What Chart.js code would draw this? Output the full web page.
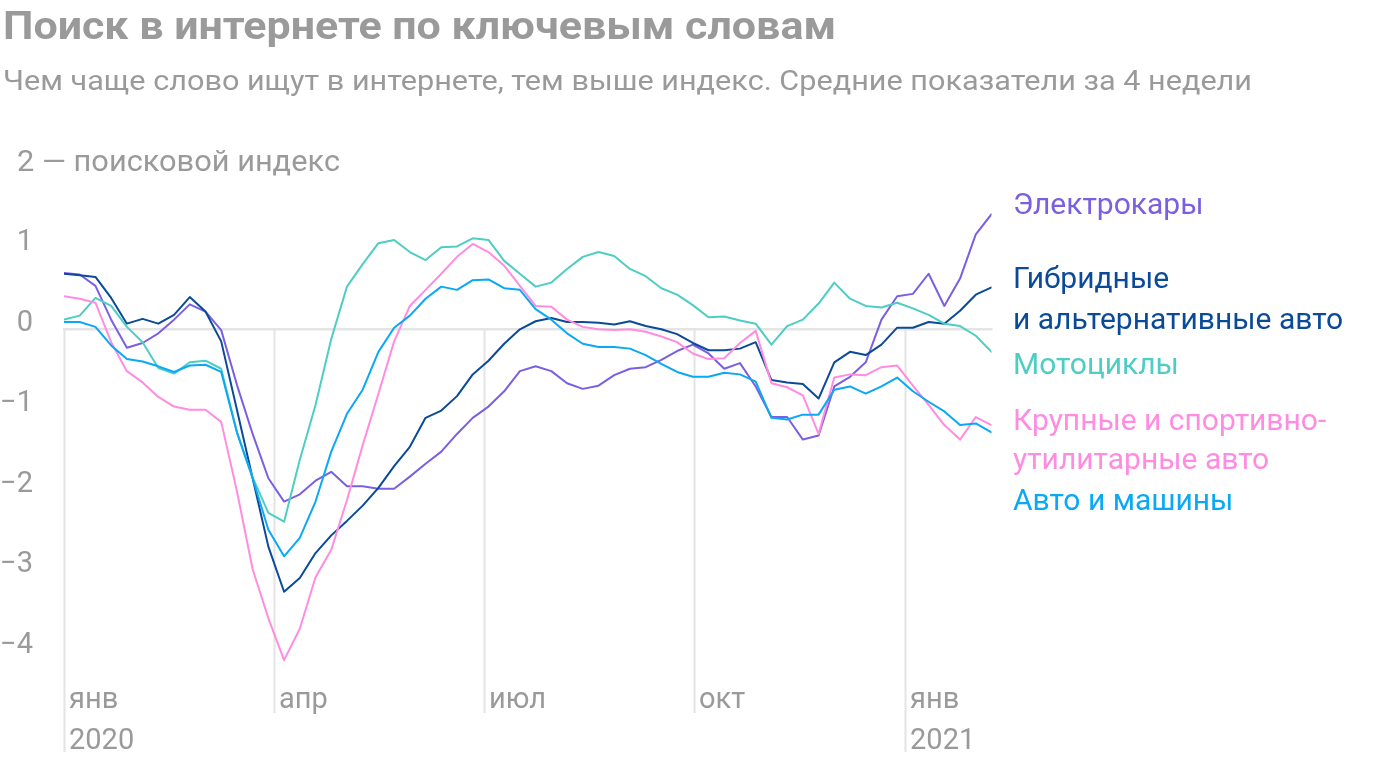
<!DOCTYPE html>
<html><head><meta charset="utf-8">
<script src="https://cdn.jsdelivr.net/npm/chart.js@4/dist/chart.umd.min.js"></script>
<style>html,body{margin:0;padding:0;background:#fff;}canvas{display:block}</style>
</head><body>
<canvas id="c" width="1400" height="760"></canvas>
<script>
// ---- data (weekly points, Jan 2020 – Feb 2021) ----
const electro = [0.70,0.68,0.54,0.12,-0.23,-0.17,-0.05,0.12,0.31,0.22,-0.01,-0.69,-1.30,-1.85,-2.14,-2.05,-1.88,-1.77,-1.95,-1.95,-1.98,-1.98,-1.83,-1.67,-1.52,-1.30,-1.10,-0.96,-0.77,-0.52,-0.46,-0.52,-0.67,-0.74,-0.70,-0.57,-0.49,-0.47,-0.38,-0.27,-0.19,-0.30,-0.49,-0.42,-0.71,-1.09,-1.09,-1.37,-1.32,-0.71,-0.59,-0.41,0.12,0.41,0.44,0.69,0.29,0.63,1.18,1.43];
const hybrid = [0.69,0.67,0.65,0.39,0.07,0.13,0.07,0.18,0.40,0.22,-0.15,-1.00,-1.85,-2.70,-3.26,-3.09,-2.78,-2.56,-2.38,-2.19,-1.97,-1.70,-1.46,-1.10,-1.01,-0.83,-0.56,-0.39,-0.18,0.00,0.10,0.14,0.09,0.09,0.08,0.06,0.10,0.04,0.00,-0.06,-0.17,-0.26,-0.26,-0.24,-0.16,-0.63,-0.66,-0.68,-0.86,-0.41,-0.28,-0.32,-0.19,0.02,0.02,0.09,0.07,0.23,0.43,0.52];
const moto = [0.12,0.17,0.39,0.29,0.03,-0.16,-0.48,-0.55,-0.41,-0.39,-0.49,-1.28,-1.84,-2.28,-2.39,-1.62,-0.94,-0.12,0.53,0.81,1.07,1.11,0.96,0.86,1.02,1.03,1.13,1.11,0.85,0.69,0.53,0.58,0.75,0.90,0.96,0.91,0.75,0.66,0.51,0.43,0.30,0.15,0.16,0.11,0.07,-0.19,0.04,0.12,0.32,0.58,0.38,0.29,0.27,0.33,0.26,0.18,0.07,0.04,-0.08,-0.28];
const suv = [0.41,0.38,0.33,-0.16,-0.52,-0.66,-0.84,-0.96,-1.00,-1.00,-1.15,-2.01,-2.98,-3.59,-4.11,-3.72,-3.08,-2.74,-2.12,-1.44,-0.80,-0.15,0.29,0.49,0.69,0.90,1.06,0.96,0.79,0.54,0.29,0.28,0.12,0.03,0.00,-0.01,0.00,-0.03,-0.09,-0.16,-0.30,-0.37,-0.36,-0.17,-0.02,-0.67,-0.72,-0.82,-1.30,-0.60,-0.56,-0.57,-0.47,-0.45,-0.70,-0.94,-1.19,-1.37,-1.09,-1.19];
const cars = [0.09,0.09,0.03,-0.20,-0.37,-0.40,-0.46,-0.53,-0.45,-0.44,-0.53,-1.28,-1.85,-2.49,-2.82,-2.59,-2.14,-1.52,-1.05,-0.75,-0.28,0.02,0.17,0.38,0.53,0.49,0.61,0.62,0.51,0.49,0.25,0.12,-0.05,-0.18,-0.22,-0.22,-0.24,-0.32,-0.43,-0.53,-0.59,-0.59,-0.54,-0.56,-0.65,-1.10,-1.12,-1.06,-1.06,-0.75,-0.71,-0.80,-0.71,-0.60,-0.77,-0.90,-1.02,-1.19,-1.17,-1.28];

const monthTickPos = [0, 13.36, 26.72, 40.08, 53.5];
const monthLabels = ['янв', 'апр', 'июл', 'окт', 'янв'];
const yearLabels = ['2020', '', '', '', '2021'];
const yTicks = [1, 0, -1, -2, -3, -4];
const yTopLabel = '2 — поисковой индекс';

const seriesNames = ['Электрокары', 'Гибридные\nи альтернативные авто', 'Мотоциклы', 'Крупные и спортивно-\nутилитарные авто', 'Авто и машины'];
const seriesColors = ['#7b5fe3', '#0b4a98', '#4ecdc4', '#ff8ce0', '#0aa8f5'];
const seriesData = [electro, hybrid, moto, suv, cars];

const TITLE = 'Поиск в интернете по ключевым словам';
const SUBTITLE = 'Чем чаще слово ищут в интернете, тем выше индекс. Средние показатели за 4 недели';

const GRAY = '#9a9a9a';
const GRID = '#e4e4e4';
const FONT = 'Roboto, "Noto Sans", sans-serif';

function fitText(ctx, text, x, y, targetW) {
  const w = ctx.measureText(text).width;
  ctx.save();
  ctx.translate(x, y);
  ctx.scale(targetW / w, 1);
  ctx.fillText(text, 0, 0);
  ctx.restore();
}

const decor = {
  id: 'decor',
  beforeDatasetsDraw(chart) {
    const ctx = chart.ctx, xs = chart.scales.x, ys = chart.scales.y;
    const y0 = ys.getPixelForValue(0);
    ctx.save();
    ctx.strokeStyle = GRID;
    ctx.lineWidth = 2;
    monthTickPos.forEach((p, i) => {
      const x = Math.round(xs.getPixelForValue(p)) + 0.5;
      ctx.beginPath();
      ctx.moveTo(x, y0);
      ctx.lineTo(x, yearLabels[i] ? 752 : 713);
      ctx.stroke();
    });
    ctx.lineWidth = 2.5;
    ctx.beginPath();
    ctx.moveTo(xs.getPixelForValue(0) - 1, y0);
    ctx.lineTo(xs.getPixelForValue(electro.length - 1) + 1, y0);
    ctx.stroke();
    ctx.restore();
  },
  afterDraw(chart) {
    const ctx = chart.ctx, xs = chart.scales.x, ys = chart.scales.y;
    ctx.save();
    ctx.fillStyle = GRAY;
    ctx.textBaseline = 'alphabetic';
    // title & subtitle
    ctx.textAlign = 'left';
    ctx.font = 'bold 39px ' + FONT;
    fitText(ctx, TITLE, 3, 39, 833);
    ctx.font = '27px ' + FONT;
    fitText(ctx, SUBTITLE, 3, 90, 1249);
    // y labels
    ctx.font = '29px ' + FONT;
    ctx.textAlign = 'left';
    fitText(ctx, yTopLabel, 17, ys.getPixelForValue(2) + 2.5, 323);
    ctx.textAlign = 'right';
    yTicks.forEach(v => {
      const t = v < 0 ? '\u2212' + Math.abs(v) : String(v);
      ctx.fillText(t, 33, ys.getPixelForValue(v) + 1.5);
    });
    // x labels
    ctx.textAlign = 'left';
    monthTickPos.forEach((p, i) => {
      const x = xs.getPixelForValue(p) + 5;
      ctx.fillText(monthLabels[i], x, 708);
      if (yearLabels[i]) ctx.fillText(yearLabels[i], x, 749);
    });
    // series labels
    ctx.font = '30px ' + FONT;
    const baselines = [[214], [288, 328.5], [374], [430, 468.5], [509.5]];
    seriesNames.forEach((n, i) => {
      ctx.fillStyle = seriesColors[i];
      n.split('\n').forEach((line, j) => ctx.fillText(line, 1013, baselines[i][j]));
    });
    ctx.restore();
  }
};

new Chart(document.getElementById('c'), {
  type: 'line',
  data: {
    datasets: seriesData.map((d, i) => ({
      label: seriesNames[i],
      data: d.map((v, k) => ({ x: k, y: v })),
      borderColor: seriesColors[i],
      borderWidth: 2,
      pointRadius: 0,
      tension: 0,
      fill: false
    })).reverse()
  },
  options: {
    responsive: false,
    animation: false,
    devicePixelRatio: 1,
    layout: { padding: { left: 64, right: 408.5, top: 168.3, bottom: 68.45 } },
    scales: {
      x: { type: 'linear', min: 0, max: 59, display: false },
      y: { type: 'linear', min: -4.5, max: 2, display: false }
    },
    plugins: { legend: { display: false }, tooltip: { enabled: false }, title: { display: false } },
    elements: { line: { borderJoinStyle: 'round', borderCapStyle: 'round' } }
  },
  plugins: [decor]
});
</script>
</body></html>
